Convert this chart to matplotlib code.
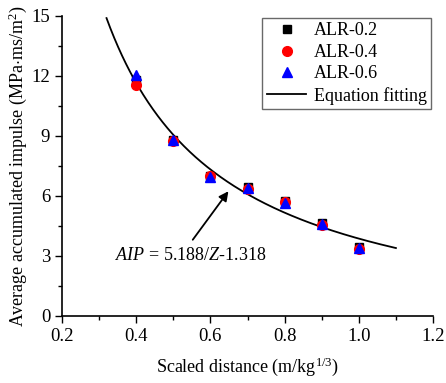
import numpy as np
import matplotlib
matplotlib.use("Agg")
import matplotlib.pyplot as plt
from matplotlib.ticker import MultipleLocator

plt.rcParams['font.family'] = ['Liberation Serif', 'DejaVu Serif']
plt.rcParams['mathtext.fontset'] = 'custom'
plt.rcParams['mathtext.rm'] = 'Liberation Serif'
plt.rcParams['mathtext.it'] = 'Liberation Serif:italic'

z = [0.4, 0.5, 0.6, 0.7, 0.8, 0.9, 1.0]
alr02 = [11.8, 8.8, 7.0, 6.45, 5.75, 4.65, 3.45]
alr04 = [11.55, 8.75, 7.0, 6.35, 5.7, 4.55, 3.35]
alr06 = [12.05, 8.8, 6.95, 6.4, 5.65, 4.6, 3.4]
fit_a, fit_b = 5.188, 1.318
fit_range = (0.32, 1.1)
xticks = [0.2, 0.4, 0.6, 0.8, 1.0, 1.2]
xticklabels = ['0.2', '0.4', '0.6', '0.8', '1.0', '1.2']
yticks = [0, 3, 6, 9, 12, 15]
yticklabels = ['0', '3', '6', '9', '12', '15']

fig = plt.figure(figsize=(4.46, 3.83), dpi=100)
ax = fig.add_axes([62/446, 1-316/383, 371/446, 300/383])

zz = np.linspace(fit_range[0], fit_range[1], 300)
ax.plot(z, alr02, 's', color='black', ms=6, label='ALR-0.2', zorder=3)
ax.plot(z, alr04, 'o', color='red', ms=7, label='ALR-0.4', zorder=4)
ax.plot(z, alr06, '^', color='blue', ms=7.5, label='ALR-0.6', zorder=5)
ax.plot(zz, fit_a/zz - fit_b, '-', color='black', lw=1.3, label='Equation fitting', zorder=2)

ax.set_xlim(0.2, 1.2)
ax.set_ylim(0, 15)
ax.set_xticks(xticks)
ax.set_xticklabels(xticklabels)
ax.set_yticks(yticks)
ax.set_yticklabels(yticklabels)
ax.xaxis.set_minor_locator(MultipleLocator(0.1))
ax.yaxis.set_minor_locator(MultipleLocator(1.5))
ax.tick_params(which='major', direction='out', length=5, width=1, labelsize=13.5)
ax.tick_params(which='minor', direction='out', length=3, width=1)
for s in ['top', 'right']:
    ax.spines[s].set_visible(False)
for s in ['left', 'bottom']:
    ax.spines[s].set_linewidth(1.2)

ax.set_xlabel('Scaled distance (m/kg$^{1/3}$)', fontsize=13, labelpad=8)
ax.set_ylabel('Average accumulated impulse (MPa$\\cdot$ms/m$^{2}$)', fontsize=13, labelpad=2)

ax.annotate('', xy=(0.653, 6.35), xytext=(0.548, 3.7),
            arrowprops=dict(arrowstyle='-|>', color='black', lw=1.3, mutation_scale=14))
ax.text(0.343, 3.05, '$\\mathit{AIP}$ = 5.188/$\\mathit{Z}$-1.318', fontsize=13, va='center', ha='left')

leg = ax.legend(loc='upper right', bbox_to_anchor=(1.0, 1.0), fontsize=13, frameon=True,
                fancybox=False, edgecolor='#444444', borderpad=0.25, labelspacing=0.25,
                handlelength=2.2, handletextpad=0.4, borderaxespad=0.1)
leg.get_frame().set_linewidth(1.0)

fig.savefig('out.png', dpi=100)
